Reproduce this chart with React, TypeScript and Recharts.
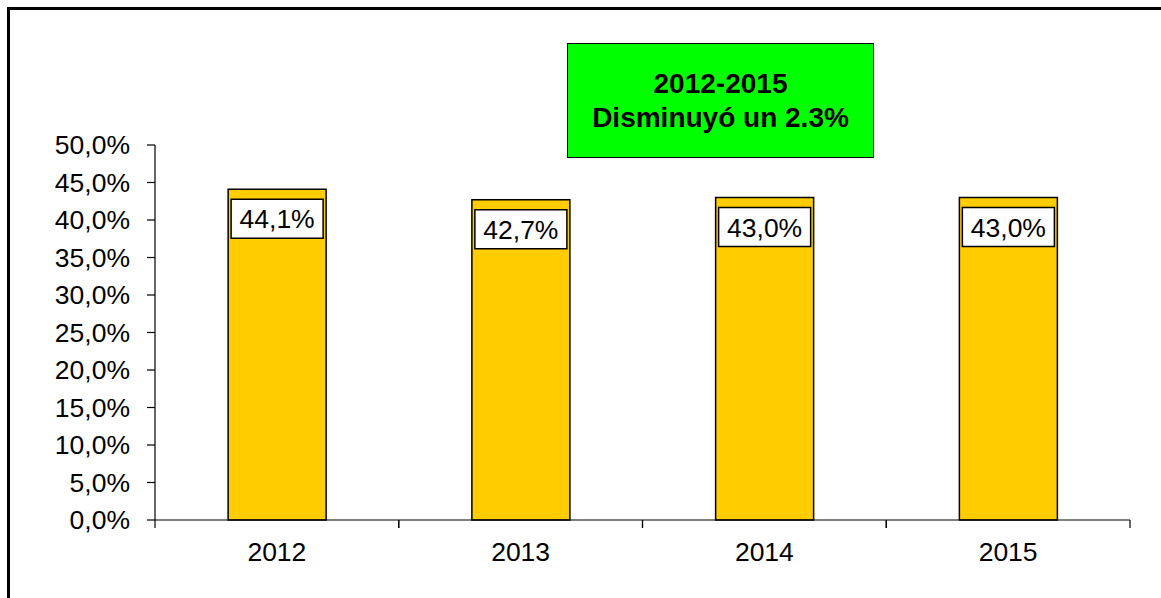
import { BarChart, Bar, XAxis, YAxis, LabelList } from 'recharts';

const years = ['2012', '2013', '2014', '2015'];
const shares = [0.441, 0.427, 0.43, 0.43];
const yTicks = [0, 0.05, 0.1, 0.15, 0.2, 0.25, 0.3, 0.35, 0.4, 0.45, 0.5];
const noteLines = ['2012-2015', 'Disminuyó un 2.3%'];

const FONT = '"Liberation Sans", Arial, sans-serif';

const data = years.map((year, i) => ({ year, share: shares[i] }));

const pct = (v: number) => (v * 100).toFixed(1).replace('.', ',') + '%';

// category label plus the boundary ticks either side of it
const XTick = (props: any) => {
  const { x, y, payload } = props;
  const half = payload && payload.offset ? payload.offset : 121.875;
  return (
    <g>
      <line x1={x - half} y1={y} x2={x - half} y2={y + 8} stroke="#000" strokeWidth={1.2} />
      <line x1={x + half} y1={y} x2={x + half} y2={y + 8} stroke="#000" strokeWidth={1.2} />
      <text x={x} y={y + 41} textAnchor="middle" fontSize={26.5} fontFamily={FONT} fill="#000">
        {payload.value}
      </text>
    </g>
  );
};

const ValueBox = (props: any) => {
  const { x, y, width, value } = props;
  const top = y + 10;
  return (
    <g>
      <rect x={x + 3} y={top} width={width - 6} height={39} fill="#fff" stroke="#000" strokeWidth={1.5} />
      <text
        x={x + width / 2}
        y={top + 20}
        textAnchor="middle"
        dominantBaseline="central"
        fontSize={26.5}
        fontFamily={FONT}
        fill="#000"
      >
        {pct(value)}
      </text>
    </g>
  );
};

export default function App() {
  return (
    <div
      style={{
        position: 'fixed',
        left: 0,
        top: 0,
        width: 1161,
        height: 598,
        background: '#fff',
        overflow: 'hidden',
        fontFamily: FONT,
      }}
    >
      {/* outer chart frame, runs off the right and bottom edges */}
      <div
        style={{
          position: 'absolute',
          left: 7,
          top: 7,
          width: 1200,
          height: 700,
          border: '3px solid #000',
        }}
      />
      <div style={{ position: 'absolute', left: 0, top: 0 }}>
        <BarChart
          width={1161}
          height={598}
          data={data}
          margin={{ top: 145, right: 31, bottom: 38, left: 55 }}
          barCategoryGap="30%"
        >
          <XAxis
            dataKey="year"
            height={40}
            stroke="#000"
            strokeWidth={1.2}
            tickLine={false}
            tickSize={0}
            tickMargin={0}
            tick={<XTick />}
            interval={0}
          />
          <YAxis
            width={100}
            domain={[0, 0.5]}
            ticks={yTicks}
            tickFormatter={pct}
            stroke="#000"
            strokeWidth={1.2}
            tickSize={8}
            tickMargin={17}
            tick={{ fill: '#000', fontSize: 26.5, fontFamily: FONT }}
            interval={0}
          />
          <Bar dataKey="share" fill="#FFCC00" stroke="#000" strokeWidth={1.5} isAnimationActive={false}>
            <LabelList dataKey="share" content={<ValueBox />} />
          </Bar>
        </BarChart>
      </div>
      <div
        style={{
          position: 'absolute',
          left: 567,
          top: 43,
          width: 305,
          height: 113,
          background: '#00FF00',
          border: '1.5px solid #000',
          display: 'flex',
          flexDirection: 'column',
          justifyContent: 'center',
          alignItems: 'center',
          fontWeight: 'bold',
          fontSize: 28,
          lineHeight: '34px',
          color: '#000',
        }}
      >
        {noteLines.map((line) => (
          <div key={line}>{line}</div>
        ))}
      </div>
    </div>
  );
}
